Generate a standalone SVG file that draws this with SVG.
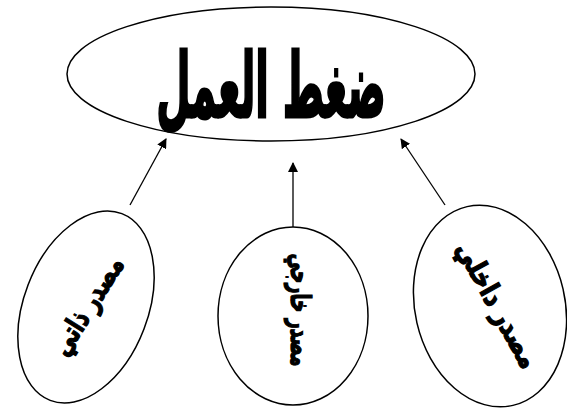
<svg xmlns="http://www.w3.org/2000/svg" width="567" height="409" viewBox="0 0 567 409">
<style>
.shape{fill:#fff;stroke:#000;stroke-width:1.5}
.lbl{font-family:"DejaVu Sans","Noto Sans",sans-serif;font-weight:bold;fill:#000;stroke:#000;text-anchor:middle}
.conn{stroke:#000;stroke-width:1.3;fill:none;marker-end:url(#ah)}
</style>
<defs>
<marker id="ah" markerWidth="10" markerHeight="10" refX="9" refY="5" orient="auto" markerUnits="userSpaceOnUse">
<path d="M0,0 L10,5 L0,10 z" fill="#000"/>
</marker>
</defs>
<rect width="567" height="409" fill="#fff"/>
<g id="connectors">
<line class="conn" x1="130" y1="205" x2="166" y2="139"/>
<line class="conn" x1="293" y1="227" x2="293" y2="163"/>
<line class="conn" x1="445" y1="205" x2="401" y2="139"/>
</g>
<g id="node-main">
<ellipse class="shape" cx="271" cy="74" rx="204" ry="67"/>
<text class="lbl" x="0" y="0" font-size="90" stroke-width="3" direction="rtl" transform="translate(271 117) scale(0.44 1)">ضغط العمل</text>
</g>
<g id="node-self">
<ellipse class="shape" cx="86" cy="307" rx="62" ry="100" transform="rotate(21 86 307)"/>
<text class="lbl" x="0" y="9" font-size="28" stroke-width="1.3" direction="rtl" transform="translate(88 306) rotate(-58) scale(0.74 1)">مصدر ذاتي</text>
</g>
<g id="node-external">
<ellipse class="shape" cx="293" cy="316" rx="75" ry="89"/>
<text class="lbl" x="0" y="9" font-size="28" stroke-width="1.3" direction="rtl" transform="translate(300 310) rotate(90) scale(0.62 1)">مصدر خارجي</text>
</g>
<g id="node-internal">
<ellipse class="shape" cx="490" cy="306" rx="75" ry="102" transform="rotate(-13 490 306)"/>
<text class="lbl" x="0" y="9" font-size="28" stroke-width="1.3" direction="rtl" transform="translate(497 305) rotate(61) scale(0.82 1)">مصدر داخلي</text>
</g>
</svg>
